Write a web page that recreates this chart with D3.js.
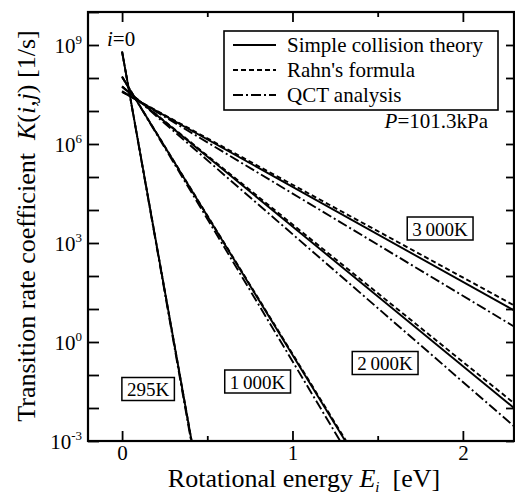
<!DOCTYPE html>
<html>
<head>
<meta charset="utf-8">
<script src="https://cdn.jsdelivr.net/npm/d3@7"></script>
<style>
  html, body { margin: 0; padding: 0; background: #fff; }
  svg { display: block; font-family: "Liberation Serif", "Times New Roman", serif; }
</style>
</head>
<body>
<svg id="chart" width="515" height="497"></svg>
<script>
// ---------- data ----------
const temperatures = ["295K", "1000K", "2000K", "3000K"];
const temperatureLabels = ["295K", "1\u2009000K", "2\u2009000K", "3\u2009000K"];
const modelNames = ["Simple collision theory", "Rahn's formula", "QCT analysis"];

// each series: [ [E (eV), K (1/s)], ... ] straight lines in log scale
const simpleCollision = [
  [[0, 6.3e8], [0.408, 1e-3]],
  [[0, 1.07e8], [1.31, 1e-3]],
  [[0, 5.4e7], [2.3, 1.0e-2]],
  [[0, 3.8e7], [2.3, 9.1]]
];
const rahnFormula = [
  [[0, 6.3e8], [0.408, 1e-3]],
  [[0, 1.07e8], [1.315, 1e-3]],
  [[0, 5.4e7], [2.3, 1.4e-2]],
  [[0, 3.8e7], [2.3, 12.9]]
];
const qctAnalysis = [
  [[0, 6.3e8], [0.405, 1e-3]],
  [[0, 1.12e8], [1.28, 1e-3]],
  [[0, 5.6e7], [2.3, 2.8e-3]],
  [[0, 4.0e7], [2.3, 2.95]]
];

const xMajorTicks = [0, 1, 2];
const xMinorTicks = [0.5, 1.5];
const yDecadeTicks = [1e-3,1e-2,1e-1,1e0,1e1,1e2,1e3,1e4,1e5,1e6,1e7,1e8,1e9,1e10];
const yLabelExponents = [-3, 0, 3, 6, 9];

// ---------- layout ----------
const svg = d3.select("#chart");
const L = 88, T = 12, R = 514, B = 441;

const x = d3.scaleLinear().domain([-0.2, 2.3]).range([L, R]);
const y = d3.scaleLog().domain([1e-3, 1e10]).range([B, T]);

// clip
svg.append("defs").append("clipPath").attr("id", "plotclip")
  .append("rect").attr("x", L).attr("y", T).attr("width", R - L).attr("height", B - T);

// ---------- axes ----------
function styleAxis(g) {
  g.select(".domain").remove();
  g.selectAll(".tick line").attr("stroke", "#000").attr("stroke-width", 1.8);
}

// bottom major
svg.append("g").attr("transform", `translate(0,${B})`)
  .call(d3.axisBottom(x).tickValues(xMajorTicks).tickSizeInner(-10).tickSizeOuter(0)
    .tickPadding(4).tickFormat(d3.format("d")))
  .call(styleAxis)
  .call(g => g.selectAll("text").attr("font-size", 21).attr("fill", "#000")
    .attr("font-family", "Liberation Serif, serif").attr("dy", "0.71em"));
// bottom minor
svg.append("g").attr("transform", `translate(0,${B})`)
  .call(d3.axisBottom(x).tickValues(xMinorTicks).tickSizeInner(-5).tickSizeOuter(0).tickFormat(""))
  .call(styleAxis);
// top major + minor
svg.append("g").attr("transform", `translate(0,${T})`)
  .call(d3.axisTop(x).tickValues(xMajorTicks).tickSizeInner(-10).tickSizeOuter(0).tickFormat(""))
  .call(styleAxis);
svg.append("g").attr("transform", `translate(0,${T})`)
  .call(d3.axisTop(x).tickValues(xMinorTicks).tickSizeInner(-5).tickSizeOuter(0).tickFormat(""))
  .call(styleAxis);

// left
svg.append("g").attr("transform", `translate(${L},0)`)
  .call(d3.axisLeft(y).tickValues(yDecadeTicks).tickSizeInner(-11).tickSizeOuter(0).tickFormat(""))
  .call(styleAxis);
// right
svg.append("g").attr("transform", `translate(${R},0)`)
  .call(d3.axisRight(y).tickValues(yDecadeTicks.slice(0, -1)).tickSizeInner(-8).tickSizeOuter(0).tickFormat(""))
  .call(styleAxis);

// y tick labels with superscripts
yLabelExponents.forEach(e => {
  const t = svg.append("text")
    .attr("x", 82).attr("y", y(Math.pow(10, e)) + 8)
    .attr("text-anchor", "end").attr("font-size", 21).attr("fill", "#000");
  t.append("tspan").text("10");
  t.append("tspan").attr("font-size", 13).attr("dy", -9).text(e < 0 ? "-" + Math.abs(e) : String(e));
});

// frame
svg.append("rect").attr("x", L).attr("y", T).attr("width", R - L).attr("height", B - T)
  .attr("fill", "none").attr("stroke", "#000").attr("stroke-width", 2.2);

// ---------- lines ----------
const line = d3.line().x(d => x(d[0])).y(d => y(d[1]));
const styles = [
  { data: simpleCollision, dash: null },
  { data: rahnFormula, dash: "5,3" },
  { data: qctAnalysis, dash: "10,3,2,3" }
];
const plot = svg.append("g").attr("clip-path", "url(#plotclip)");
styles.forEach(s => {
  s.data.forEach(pts => {
    plot.append("path").attr("d", line(pts))
      .attr("fill", "none").attr("stroke", "#000").attr("stroke-width", 1.9)
      .attr("stroke-dasharray", s.dash);
  });
});

// ---------- legend ----------
const legend = svg.append("g");
legend.append("rect").attr("x", 224).attr("y", 31).attr("width", 274).attr("height", 79)
  .attr("fill", "#fff").attr("stroke", "#000").attr("stroke-width", 1.6);
const legendDash = [null, "5,3", "10,3,2,3"];
modelNames.forEach((name, i) => {
  const ly = 45 + i * 25;
  legend.append("line").attr("x1", 233).attr("x2", 276).attr("y1", ly).attr("y2", ly)
    .attr("stroke", "#000").attr("stroke-width", 1.8).attr("stroke-dasharray", legendDash[i]);
  legend.append("text").attr("x", 287).attr("y", ly + 7).attr("font-size", 21)
    .attr("fill", "#000").text(name);
});

// ---------- annotations ----------
const pText = svg.append("text").attr("x", 488).attr("y", 128).attr("text-anchor", "end")
  .attr("font-size", 21).attr("fill", "#000");
pText.append("tspan").attr("font-style", "italic").text("P");
pText.append("tspan").text("=101.3kPa");

const iText = svg.append("text").attr("x", 107).attr("y", 46).attr("font-size", 21).attr("fill", "#000");
iText.append("tspan").attr("font-style", "italic").text("i");
iText.append("tspan").text("=0");

// temperature boxed labels (centre positions)
const labelCentres = [[148, 389], [257.5, 381.5], [385, 363], [440, 228.5]];
temperatures.forEach((tname, i) => {
  const [cx, cy] = labelCentres[i];
  const g = svg.append("g");
  const t = g.append("text").attr("x", cx).attr("y", cy + 7).attr("text-anchor", "middle")
    .attr("font-size", 19).attr("fill", "#000").text(temperatureLabels[i]);
  const bb = t.node().getBBox();
  g.insert("rect", "text").attr("x", bb.x - 5).attr("y", cy - 11.5)
    .attr("width", bb.width + 10).attr("height", 23)
    .attr("fill", "#fff").attr("stroke", "#000").attr("stroke-width", 1.5);
});

// ---------- axis titles ----------
const xt = svg.append("text").attr("x", 304).attr("y", 487).attr("text-anchor", "middle")
  .attr("font-size", 26).attr("fill", "#000");
xt.append("tspan").text("Rotational energy ");
xt.append("tspan").attr("font-style", "italic").text("E");
xt.append("tspan").attr("font-style", "italic").attr("font-size", 15).attr("dy", 5).text("i");
xt.append("tspan").attr("dy", -5).text("\u00a0 [eV]");

const yt = svg.append("text").attr("transform", "translate(35,226) rotate(-90)")
  .attr("text-anchor", "middle").attr("font-size", 26).attr("fill", "#000");
yt.append("tspan").text("Transition rate coefficient\u00a0\u00a0");
yt.append("tspan").attr("font-style", "italic").text("K");
yt.append("tspan").text("(");
yt.append("tspan").attr("font-style", "italic").text("i,j");
yt.append("tspan").text(") [1/s]");
</script>
</body>
</html>
